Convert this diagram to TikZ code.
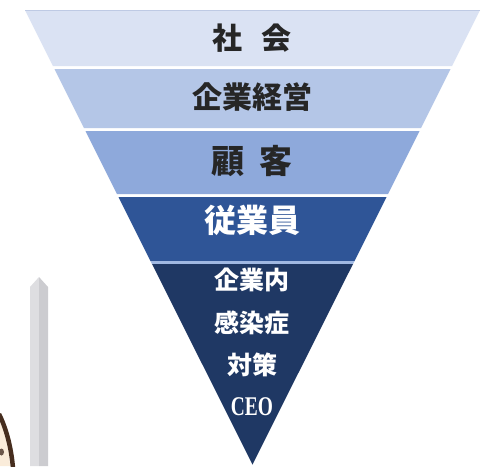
\documentclass[tikz,border=0pt]{standalone}
\usepackage{fontspec}
\setmainfont{Liberation Serif}
\newfontfamily\jp{Noto Sans CJK JP}
\definecolor{bandA}{RGB}{218,226,243}
\definecolor{bandB}{RGB}{180,198,231}
\definecolor{bandC}{RGB}{142,169,219}
\definecolor{bandD}{RGB}{47,85,151}
\definecolor{bandE}{RGB}{31,56,100}
\definecolor{bandline}{RGB}{160,184,226}
\definecolor{toprule}{RGB}{190,202,228}
\definecolor{poleL}{RGB}{222,222,225}
\definecolor{poleR}{RGB}{204,204,208}
\definecolor{hair}{RGB}{70,45,30}
\definecolor{skin}{RGB}{250,236,218}
\tikzset{
  lbl/.style={font=\jp\bfseries\fontsize{30}{30}\selectfont, text=black!85, inner sep=0pt, anchor=center},
  wlbl/.style={font=\jp\bfseries\fontsize{25}{25}\selectfont, text=white, inner sep=0pt, anchor=center},
}
% left and right edges of the inverted triangle at height y (image coordinates)
\newcommand{\lx}[1]{25+0.5*(#1-10)}
\newcommand{\rx}[1]{480-0.5*(#1-10)}
\newcommand{\band}[3]{\fill[#3] ({\lx{#1}},#1) -- ({\rx{#1}},#1) -- ({\rx{#2}},#2) -- ({\lx{#2}},#2) -- cycle;}
\begin{document}
\begin{tikzpicture}[x=1pt,y=-1pt]
\useasboundingbox (0,0) rectangle (486,466);
\fill[white] (0,0) rectangle (486,466);

% bands of the inverted triangle
\band{10}{66}{bandA}
\draw[toprule, line width=0.8pt] ({\lx{10}},10) -- ({\rx{10}},10);
\band{69}{128}{bandB}
\band{131}{194}{bandC}
\band{197}{261}{bandD}
\band{261}{264}{bandline}
\fill[bandE] ({\lx{264}},264) -- ({\rx{264}},264) -- (252.5,464.5) -- cycle;

% labels
\node[lbl] (society) at (252,38) {社\hspace{0.62em}会};
\node[lbl] (mgmt) at (252,97) {企業経営};
\node[lbl, font=\jp\bfseries\fontsize{33}{33}\selectfont] (cust) at (252,161) {顧\hspace{0.45em}客};
\node[lbl, text=white, font=\jp\bfseries\fontsize{32}{32}\selectfont] (staff) at (252,220) {従業員};
\node[wlbl] (l1) at (252,280) {企業内};
\node[wlbl] (l2) at (252,323) {感染症};
\node[wlbl] (l3) at (252,365) {対策};
\node[wlbl, font=\bfseries\fontsize{27}{27}\selectfont] (ceo) at (252,407) {\scalebox{0.72}[1]{CEO}};

% pole on the left
\fill[poleL] (30,287) -- (39,277) -- (39,466) -- (30,466) -- cycle;
\fill[poleR] (39,277) -- (48,287) -- (48,466) -- (39,466) -- cycle;

% partial head at the lower left corner
\fill[skin] (0,422) .. controls (5,432) and (9,448) .. (10,466) -- (0,466) -- cycle;
\draw[hair, line width=4.5pt] (-1,414) .. controls (6,428) and (11,446) .. (13,468);
\fill[hair!80] (1.5,452) ellipse (2.5 and 3.5);
\end{tikzpicture}
\end{document}
